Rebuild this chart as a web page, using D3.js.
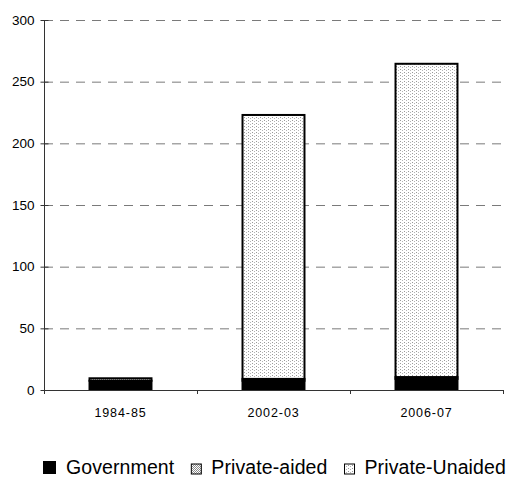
<!DOCTYPE html>
<html><head><meta charset="utf-8">
<script src="https://cdn.jsdelivr.net/npm/d3@7"></script>
<style>
html,body{margin:0;padding:0;background:#fff;}
svg{display:block;font-family:"Liberation Sans",Arial,sans-serif;}
</style></head>
<body>
<svg id="chart" width="523" height="479"></svg>
<script>
const categories = ["1984-85", "2002-03", "2006-07"];
const seriesNames = ["Government", "Private-aided", "Private-Unaided"];
const government = [7.5, 7.5, 9];
const privateAided = [2, 1.5, 1.5];
const privateUnaided = [0, 214, 254];
const yTicks = [0, 50, 100, 150, 200, 250, 300];

(function () {
const rows = categories.map((c, i) => ({
  cat: c,
  "Government": government[i],
  "Private-aided": privateAided[i],
  "Private-Unaided": privateUnaided[i]
}));

const svg = d3.select("#chart");
const defs = svg.append("defs");

const pA = defs.append("pattern").attr("id", "pAided").attr("patternUnits", "userSpaceOnUse")
  .attr("width", 2).attr("height", 2);
pA.append("rect").attr("width", 2).attr("height", 2).attr("fill", "#fff");
pA.append("rect").attr("width", 1).attr("height", 1).attr("fill", "#8a8a8a");
pA.append("rect").attr("x", 1).attr("y", 1).attr("width", 1).attr("height", 1).attr("fill", "#8a8a8a");

const pU = defs.append("pattern").attr("id", "pUnaided").attr("patternUnits", "userSpaceOnUse")
  .attr("width", 4).attr("height", 3);
pU.append("rect").attr("width", 4).attr("height", 3).attr("fill", "#fff");
pU.append("rect").attr("x", 0).attr("y", 0).attr("width", 1).attr("height", 1).attr("fill", "#999");
pU.append("rect").attr("x", 2).attr("y", 1).attr("width", 1).attr("height", 1).attr("fill", "#b5b5b5");

const fills = {
  "Government": "#000",
  "Private-aided": "url(#pAided)",
  "Private-Unaided": "url(#pUnaided)"
};

const mLeft = 44, mRight = 503, mTop = 20, mBottom = 390;

const x = d3.scaleBand().domain(categories).range([mLeft, mRight])
  .paddingInner(0.595).paddingOuter(0.2975);
const y = d3.scaleLinear().domain([0, 300]).range([mBottom, mTop]);

svg.append("g").selectAll("line").data(yTicks.filter(t => t > 0)).join("line")
  .attr("x1", mLeft).attr("x2", mRight)
  .attr("y1", d => y(d) + 0.5).attr("y2", d => y(d) + 0.5)
  .attr("stroke", "#7a7a7a").attr("stroke-width", 1)
  .attr("stroke-dasharray", "9,7");

const stacked = d3.stack().keys(seriesNames)(rows);
const bars = svg.append("g");
stacked.forEach(layer => {
  bars.append("g").selectAll("rect").data(layer).join("rect")
    .attr("x", d => x(d.data.cat))
    .attr("width", x.bandwidth())
    .attr("y", d => y(d[1]))
    .attr("height", d => Math.max(0, y(d[0]) - y(d[1])))
    .attr("fill", fills[layer.key])
    .attr("stroke", "#000").attr("stroke-width", 2)
    .attr("display", d => (d[1] - d[0]) > 0 ? null : "none");
});

const yAxis = d3.axisLeft(y).tickValues(yTicks).tickSize(4).tickPadding(6);
const gy = svg.append("g").attr("transform", `translate(${mLeft + 0.5},0)`).call(yAxis);
gy.select(".domain").attr("stroke", "#333").attr("d", `M0,${mTop}V${mBottom}`);
gy.selectAll(".tick line").attr("stroke", "#333").attr("x1", 4).attr("x2", -4);
gy.selectAll(".tick text").attr("font-size", 13.5).attr("fill", "#000")
  .attr("font-family", "'Liberation Sans',Arial,sans-serif").attr("x", -10);

const step = x.step();
const bounds = categories.map(c => x(c) - x.paddingInner() * step / 2);
bounds.push(bounds[bounds.length - 1] + step);
const gx = svg.append("g");
gx.append("line").attr("x1", mLeft - 3).attr("x2", mRight)
  .attr("y1", mBottom + 0.5).attr("y2", mBottom + 0.5).attr("stroke", "#333");
gx.selectAll("line.tk").data(bounds).join("line").attr("class", "tk")
  .attr("x1", d => Math.round(d) + 0.5).attr("x2", d => Math.round(d) + 0.5)
  .attr("y1", mBottom).attr("y2", mBottom + 4).attr("stroke", "#333");
gx.selectAll("text").data(categories).join("text")
  .attr("x", d => x(d) + x.bandwidth() / 2)
  .attr("y", 417)
  .attr("text-anchor", "middle")
  .attr("font-size", 12.5).attr("letter-spacing", "0.9px")
  .text(d => d);

const lg = svg.append("g");
let lx = 43;
const legendBase = 474;
seriesNames.forEach((name, i) => {
  const sz = i === 0 ? 13 : 10;
  lg.append("rect").attr("x", lx).attr("y", legendBase - sz).attr("width", sz).attr("height", sz)
    .attr("fill", fills[name]).attr("stroke", "#000").attr("stroke-width", i === 0 ? 0 : 1);
  const off = i === 0 ? 23 : 20;
  const t = lg.append("text").attr("x", lx + off).attr("y", legendBase)
    .attr("font-size", 19.5).attr("letter-spacing", "0.1px").text(name);
  const w = t.node().getComputedTextLength();
  lx = lx + off + w + 17;
});
})();
</script>
</body></html>
